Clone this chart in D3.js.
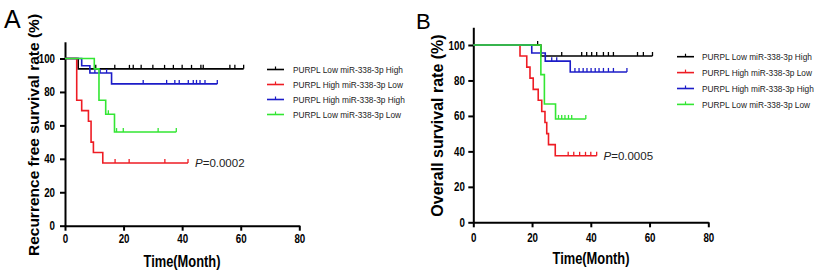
<!DOCTYPE html>
<html lang="en">
<head>
<meta charset="UTF-8" />
<title>PURPL / miR-338-3p survival curves</title>
<script src="https://d3js.org/d3.v7.min.js"></script>
<style>
  * { margin: 0; padding: 0; }
  body { background: #fff; }
  svg { display: block; font-family: "Liberation Sans", Arial, sans-serif; }
</style>
</head>
<body>
<svg width="818" height="274"></svg>
<script>
// groups and colours
var groups = ["PURPL Low miR-338-3p High", "PURPL High miR-338-3p Low",
              "PURPL High miR-338-3p High", "PURPL Low miR-338-3p Low"];
var colors = ["#000000", "#ee1c24", "#1c1cc8", "#33e633"];
var xTicks = [0, 20, 40, 60, 80];
var yTicks = [0, 20, 40, 60, 80, 100];

// panel A - recurrence free survival: [month, survival %], last point = end of follow-up
var rfsLowHigh  = [[0, 100], [4.5, 93.8], [61, 93.8]];
var rfsHighLow  = [[0, 100], [4, 75], [5.7, 68.8], [8, 62.5], [8.9, 50], [9.7, 43.8], [12.9, 37.5], [42, 37.5]];
var rfsHighHigh = [[0, 100], [5.7, 95.7], [8.5, 91.3], [15.9, 84.8], [52, 84.8]];
var rfsLowLow   = [[0, 100], [10, 93.8], [11.6, 75], [13.9, 66.7], [16.9, 56], [38, 56]];
// censored months
var rfsCensLowHigh  = [10.5, 17, 22, 23.3, 26, 30, 34, 37, 40, 43.2, 46.4, 47.2, 56.3, 58, 61];
var rfsCensHighLow  = [17.1, 21.9, 34.1, 42];
var rfsCensHighHigh = [10.2, 12, 14.2, 26.7, 34.7, 37.5, 39, 42.1, 43.8, 44.9, 46.1, 47.8, 52];
var rfsCensLowLow   = [14.8, 17.6, 19.9, 31.8, 38];

// panel B - overall survival
var osLowHigh  = [[0, 100], [23, 93.8], [61, 93.8]];
var osHighLow  = [[0, 100], [15.9, 93.8], [18.2, 87.5], [19.3, 81.3], [20.4, 75], [22.1, 68.8], [23.3, 62.5],
                  [24.4, 56.3], [25, 50], [25.6, 43.8], [27.9, 37.5], [42, 37.5]];
var osHighHigh = [[0, 100], [19.9, 95.5], [24.5, 90.9], [33, 84.8], [52.3, 84.8]];
var osLowLow   = [[0, 100], [23, 83.3], [24.2, 66.7], [28, 58.3], [38.3, 58.3]];
var osCensLowHigh  = [21.9, 30.1, 36.9, 38.6, 40.3, 42, 44.3, 46, 47.7, 55.9, 57.9, 61];
var osCensHighLow  = [32.3, 34.2, 36.2, 38.2, 40, 42];
var osCensHighHigh = [26.7, 28.4, 34.6, 36, 37.4, 38.7, 40.1, 41.5, 42.8, 44.3, 46, 47.7, 52.3];
var osCensLowLow   = [29, 30.1, 31.2, 32.4, 33.5, 38.3];

var svg = d3.select("svg");

// squeeze text horizontally (the figure uses a narrow face)
function squeeze(sel, f) {
    sel.each(function() {
        var w = this.getComputedTextLength();
        d3.select(this).attr("textLength", w * f).attr("lengthAdjust", "spacingAndGlyphs");
    });
}

function survivalAt(steps, t) {
    var s = steps[0][1];
    steps.forEach(function(p) { if (p[0] <= t) s = p[1]; });
    return s;
}

function drawPanel(cfg) {
    var g = svg.append("g");
    var x = d3.scaleLinear().domain([0, 80]).range([cfg.left, cfg.right]);
    var y = d3.scaleLinear().domain([0, 110]).range([cfg.bottom, cfg.bottom - (cfg.bottom - cfg.y100) * 1.1]);

    // axes
    var xAxis = g.append("g")
        .attr("transform", "translate(0," + cfg.bottom + ")")
        .call(d3.axisBottom(x).tickValues(xTicks).tickSize(5).tickSizeOuter(0).tickPadding(cfg.xPad));
    var yAxis = g.append("g")
        .attr("transform", "translate(" + cfg.left + ",0)")
        .call(d3.axisLeft(y).tickValues(yTicks).tickSize(5).tickSizeOuter(0).tickPadding(cfg.yPad));
    [xAxis, yAxis].forEach(function(a) {
        a.selectAll("path, line").attr("stroke", "#000").attr("stroke-width", 2);
        a.selectAll("text").attr("font-size", "12.5px").attr("font-weight", "bold")
            .attr("fill", "#000").attr("font-family", "Liberation Sans, Arial, sans-serif");
        squeeze(a.selectAll("text"), 0.78);
    });

    // curves
    var line = d3.line().x(function(d) { return x(d[0]); }).y(function(d) { return y(d[1]); })
        .curve(d3.curveStepAfter);
    cfg.series.forEach(function(s, i) {
        g.append("path").datum(s).attr("d", line)
            .attr("fill", "none").attr("stroke", colors[i]).attr("stroke-width", 1.6);
        g.selectAll(null).data(cfg.censors[i]).enter().append("line")
            .attr("x1", function(t) { return x(t); }).attr("x2", function(t) { return x(t); })
            .attr("y1", function(t) { return y(survivalAt(s, t)); })
            .attr("y2", function(t) { return y(survivalAt(s, t)) - 4; })
            .attr("stroke", colors[i]).attr("stroke-width", 1.3);
    });

    // p value
    var p = g.append("text").attr("x", cfg.pX).attr("y", cfg.pY)
        .attr("font-size", "11.5px").attr("fill", "#222");
    p.append("tspan").attr("font-style", "italic").text("P");
    p.append("tspan").text("=" + cfg.pValue);

    // axis titles
    g.append("text")
        .attr("transform", "translate(" + cfg.yTitleX + "," + cfg.yTitleY + ") rotate(-90)")
        .attr("text-anchor", "middle").attr("font-weight", "bold")
        .attr("font-size", cfg.yTitleSize + "px")
        .text(cfg.yTitle);
    g.append("text")
        .attr("x", cfg.xTitleX).attr("y", cfg.xTitleY)
        .attr("text-anchor", "middle").attr("font-weight", "bold").attr("font-size", "16px")
        .attr("textLength", 77).attr("lengthAdjust", "spacingAndGlyphs")
        .text("Time(Month)");

    // panel letter
    g.append("text").attr("x", cfg.letterX).attr("y", cfg.letterY)
        .attr("font-size", cfg.letterSize + "px").text(cfg.letter);

    // legend
    var leg = g.selectAll(".leg").data(groups).enter().append("g")
        .attr("transform", function(d, i) { return "translate(" + cfg.legX + "," + (cfg.legY + i * cfg.legStep) + ")"; });
    leg.append("line").attr("x1", 0).attr("x2", 17).attr("y1", 0).attr("y2", 0)
        .attr("stroke", function(d, i) { return colors[i]; }).attr("stroke-width", 1.6);
    leg.append("line").attr("x1", 8.5).attr("x2", 8.5).attr("y1", 0).attr("y2", -3)
        .attr("stroke", function(d, i) { return colors[i]; }).attr("stroke-width", 1.2);
    leg.append("text").attr("x", cfg.legTextX).attr("y", 3.2)
        .attr("font-size", "8.3px").attr("fill", "#222").text(function(d) { return d; });
}

drawPanel({
    left: 65, right: 299.3, bottom: 225.7, y100: 58.5, xPad: 3.5, yPad: 5,
    series: [rfsLowHigh, rfsHighLow, rfsHighHigh, rfsLowLow],
    censors: [rfsCensLowHigh, rfsCensHighLow, rfsCensHighHigh, rfsCensLowLow],
    pValue: "0.0002", pX: 195, pY: 166.5,
    yTitle: "Recurrence free survival rate (%)", yTitleX: 39, yTitleY: 135, yTitleSize: 15.5,
    xTitleX: 182, xTitleY: 267,
    letter: "A", letterX: 4, letterY: 28, letterSize: 25,
    legX: 267, legY: 69.5, legStep: 15, legTextX: 26
});

drawPanel({
    left: 473.3, right: 708.3, bottom: 222.3, y100: 45, xPad: 6, yPad: 3.5,
    series: [osLowHigh, osHighLow, osHighHigh, osLowLow],
    censors: [osCensLowHigh, osCensHighLow, osCensHighHigh, osCensLowLow],
    pValue: "0.0005", pX: 603.5, pY: 159.5,
    yTitle: "Overall survival rate (%)", yTitleX: 443, yTitleY: 125.5, yTitleSize: 16,
    xTitleX: 591, xTitleY: 264,
    letter: "B", letterX: 416, letterY: 28.5, letterSize: 22,
    legX: 677, legY: 56.7, legStep: 15.9, legTextX: 25
});
</script>
</body>
</html>
